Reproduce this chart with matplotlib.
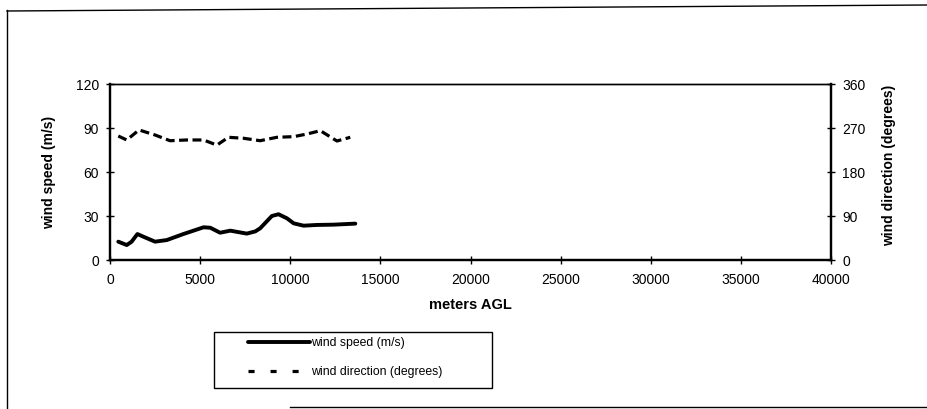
import matplotlib.pyplot as plt
from matplotlib.lines import Line2D
from matplotlib.patches import Rectangle

plt.rcParams['font.family'] = ['Liberation Sans', 'DejaVu Sans']

# wind speed profile (m/s) vs height (m AGL)
speed_height = [460, 930, 1200, 1520, 1850, 2500, 3150, 4070, 5190, 5560, 6110, 6670,
                7590, 8060, 8330, 8980, 9350, 9820, 10190, 10740, 11480, 12410, 13610]
speed = [12.5, 10.2, 12.5, 17.7, 15.9, 12.5, 13.6, 17.7, 22.3, 22.0, 18.6, 20.0,
         18.0, 19.5, 21.6, 30.0, 31.2, 28.4, 25.0, 23.4, 23.9, 24.1, 24.8]

# wind direction profile (degrees)
dir_height = [460, 930, 1610, 2500, 3330, 4260, 5190, 5930, 6570, 7410,
              8330, 9260, 10190, 10930, 11670, 12590, 13330]
direction = [253.6, 245.5, 266.0, 255.7, 244.0, 245.5, 245.5, 235.0, 251.0, 249.0,
             244.0, 251.0, 252.3, 257.7, 264.5, 243.4, 251.0]

x_ticks = [0, 5000, 10000, 15000, 20000, 25000, 30000, 35000, 40000]
speed_ticks = [0, 30, 60, 90, 120]
dir_ticks = [0, 90, 180, 270, 360]

fig = plt.figure(figsize=(9.27, 4.09), dpi=100)
ax = fig.add_axes([110 / 927, 1 - 260 / 409, 721 / 927, 176 / 409])
ax2 = ax.twinx()

l1, = ax.plot(speed_height, speed, color='black', lw=2.8,
              solid_joinstyle='round', solid_capstyle='round')
l2, = ax2.plot(dir_height, direction, color='black', lw=2.3, dashes=(2.8, 1.4))

ax.set_xlim(0, 40000)
ax.set_ylim(0, 120)
ax2.set_ylim(0, 360)
ax.set_xticks(x_ticks)
ax.set_yticks(speed_ticks)
ax2.set_yticks(dir_ticks)

for a in (ax, ax2):
    for s in a.spines.values():
        s.set_linewidth(1.6)
    a.spines['top'].set_linewidth(1.0)
    a.tick_params(direction='inout', length=6, width=1, labelsize=10, pad=5)
ax.tick_params(axis='x', pad=6)

ax.set_xlabel('meters AGL', fontsize=10.5, fontweight='bold', labelpad=8)
ax.set_ylabel('wind speed (m/s)', fontsize=10, fontweight='bold')
ax.yaxis.set_label_coords(-0.075, 0.5)
ax2.set_ylabel('wind direction (degrees)', fontsize=10, fontweight='bold')
ax2.yaxis.set_label_coords(1.0707, 0.54)

# legend box drawn separately, entries placed inside it
fig.add_artist(Rectangle((214 / 927, 1 - 388 / 409), 278 / 927, 56 / 409,
                         transform=fig.transFigure, facecolor='white',
                         edgecolor='black', lw=1.0))
leg = fig.legend([l1, l2], ['wind speed (m/s)', 'wind direction (degrees)'],
                 loc='upper left', bbox_to_anchor=(248 / 927, 1 - 337 / 409),
                 fontsize=8.8, handlelength=5.07, handletextpad=0.12,
                 borderpad=0, labelspacing=1.42, borderaxespad=0, frameon=False)
leg.legend_handles[1].set_dashes((1.9, 5.0))

# outer chart frame
fig.add_artist(Line2D([7 / 927, 7 / 927], [0, 1 - 10 / 409], color='black', lw=1))
fig.add_artist(Line2D([7 / 927, 1], [1 - 11 / 409, 1 - 5 / 409], color='black', lw=1))
fig.add_artist(Line2D([290 / 927, 1], [1 - 407 / 409, 1 - 407 / 409], color='black', lw=1))

fig.savefig('out.png', dpi=100)
